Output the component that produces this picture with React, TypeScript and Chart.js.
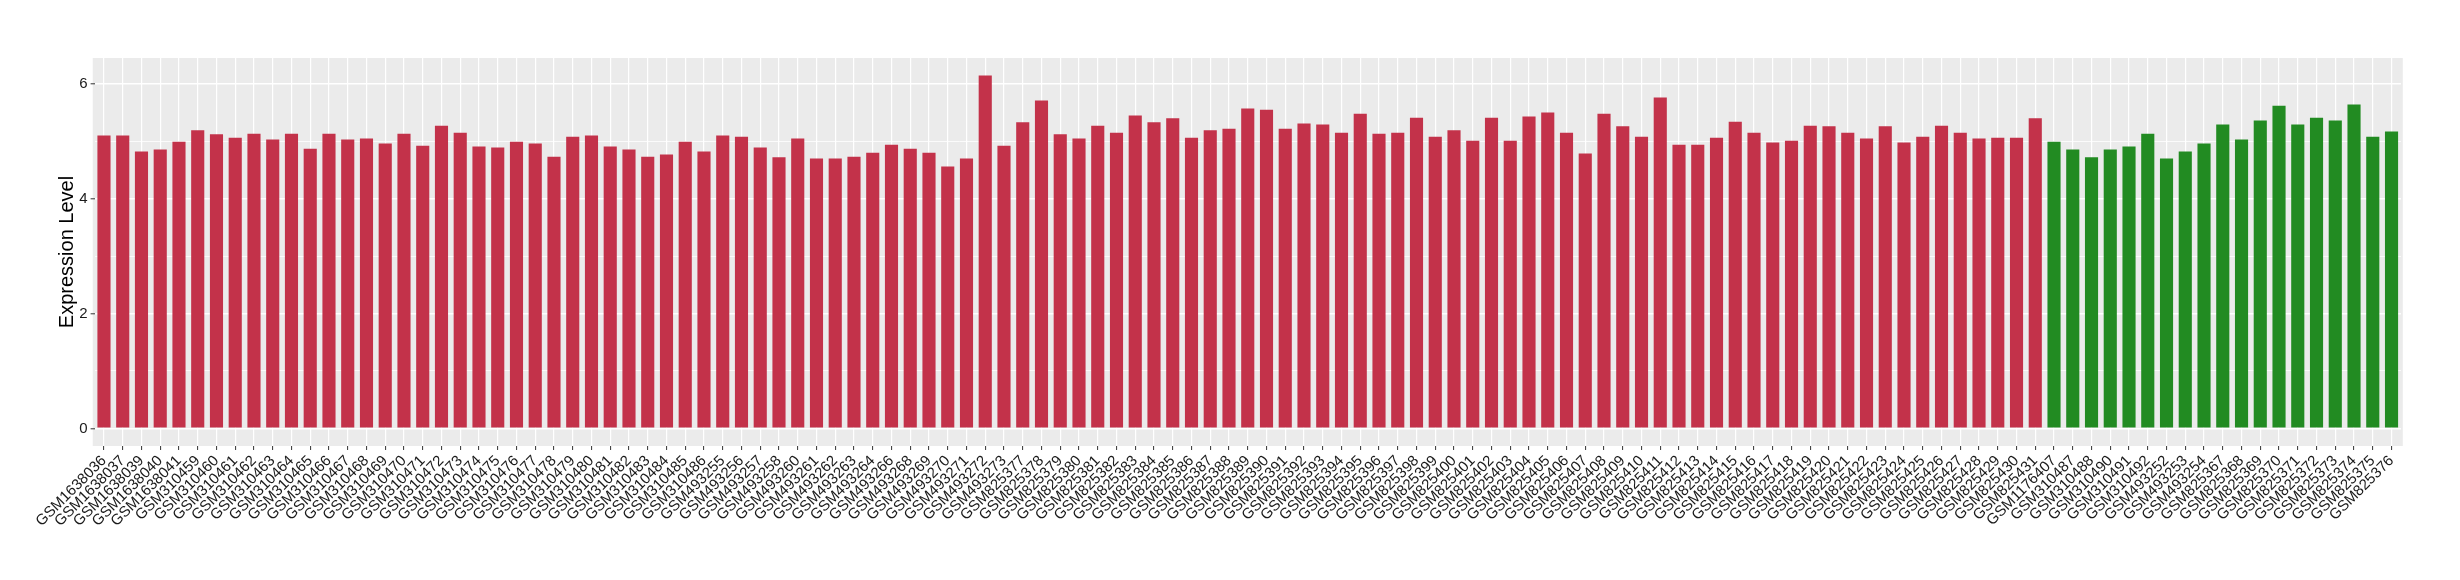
import React, { useEffect, useRef } from "react";
import { Chart, registerables } from "chart.js";

Chart.register(...registerables);

const redSamples = [
  "GSM1638036", "GSM1638037", "GSM1638039", "GSM1638040", "GSM1638041",
  "GSM310459", "GSM310460", "GSM310461", "GSM310462", "GSM310463", "GSM310464", "GSM310465",
  "GSM310466", "GSM310467", "GSM310468", "GSM310469", "GSM310470", "GSM310471", "GSM310472",
  "GSM310473", "GSM310474", "GSM310475", "GSM310476", "GSM310477", "GSM310478", "GSM310479",
  "GSM310480", "GSM310481", "GSM310482", "GSM310483", "GSM310484", "GSM310485", "GSM310486",
  "GSM493255", "GSM493256", "GSM493257", "GSM493258", "GSM493260", "GSM493261", "GSM493262",
  "GSM493263", "GSM493264", "GSM493266", "GSM493268", "GSM493269", "GSM493270", "GSM493271",
  "GSM493272", "GSM493273",
  "GSM825377", "GSM825378", "GSM825379", "GSM825380", "GSM825381", "GSM825382", "GSM825383",
  "GSM825384", "GSM825385", "GSM825386", "GSM825387", "GSM825388", "GSM825389", "GSM825390",
  "GSM825391", "GSM825392", "GSM825393", "GSM825394", "GSM825395", "GSM825396", "GSM825397",
  "GSM825398", "GSM825399", "GSM825400", "GSM825401", "GSM825402", "GSM825403", "GSM825404",
  "GSM825405", "GSM825406", "GSM825407", "GSM825408", "GSM825409", "GSM825410", "GSM825411",
  "GSM825412", "GSM825413", "GSM825414", "GSM825415", "GSM825416", "GSM825417", "GSM825418",
  "GSM825419", "GSM825420", "GSM825421", "GSM825422", "GSM825423", "GSM825424", "GSM825425",
  "GSM825426", "GSM825427", "GSM825428", "GSM825429", "GSM825430", "GSM825431",
];

const redValues = [
  5.10, 5.10, 4.82, 4.855, 4.99,
  5.19, 5.12, 5.06, 5.13, 5.03, 5.13, 4.87,
  5.13, 5.03, 5.05, 4.96, 5.13, 4.92, 5.27,
  5.15, 4.91, 4.89, 4.99, 4.96, 4.73, 5.08,
  5.10, 4.91, 4.855, 4.73, 4.77, 4.99, 4.82,
  5.10, 5.08, 4.89, 4.72, 5.05, 4.70, 4.70,
  4.73, 4.80, 4.94, 4.87, 4.80, 4.56, 4.70,
  6.145, 4.92,
  5.33, 5.71, 5.12, 5.05, 5.27, 5.15, 5.45,
  5.33, 5.40, 5.06, 5.19, 5.22, 5.57, 5.55,
  5.22, 5.31, 5.29, 5.15, 5.48, 5.13, 5.15,
  5.41, 5.08, 5.19, 5.01, 5.41, 5.01, 5.43,
  5.50, 5.15, 4.785, 5.48, 5.26, 5.08, 5.76,
  4.94, 4.94, 5.06, 5.34, 5.15, 4.98, 5.01,
  5.27, 5.26, 5.15, 5.05, 5.26, 4.98, 5.08,
  5.27, 5.15, 5.05, 5.06, 5.06, 5.40,
];

const greenSamples = [
  "GSM1176407", "GSM310487", "GSM310488", "GSM310490", "GSM310491", "GSM310492",
  "GSM493252", "GSM493253", "GSM493254", "GSM825367", "GSM825368", "GSM825369",
  "GSM825370", "GSM825371", "GSM825372", "GSM825373", "GSM825374", "GSM825375", "GSM825376",
];

const greenValues = [
  4.99, 4.855, 4.72, 4.855, 4.91, 5.13,
  4.70, 4.82, 4.96, 5.29, 5.03, 5.36,
  5.62, 5.29, 5.41, 5.36, 5.64, 5.08, 5.17,
];

const yTickValues = [0, 2, 4, 6];
const yTitle = "Expression Level";

const RED = "#C3324A";
const GREEN = "#228B22";
const PANEL_BG = "#EBEBEB";
const FONT = "'Liberation Sans', Arial, Helvetica, sans-serif";

export default function App() {
  const canvasRef = useRef<HTMLCanvasElement | null>(null);

  useEffect(() => {
    const canvas = canvasRef.current;
    if (!canvas) return;
    const labels = [...redSamples, ...greenSamples];
    const values = [...redValues, ...greenValues];
    const colors = [...redSamples.map(() => RED), ...greenSamples.map(() => GREEN)];

    const panelBg = {
      id: "panelBg",
      beforeDraw(chart: any) {
        const { ctx } = chart;
        const yScale = chart.scales.y;
        const top = yScale.getPixelForValue(yScale.max);
        const bottom = yScale.getPixelForValue(yScale.min);
        const xs = chart.scales.x;
        const step = xs.getPixelForValue(1) - xs.getPixelForValue(0);
        const left = xs.getPixelForValue(0) - step * 0.6;
        const right = xs.getPixelForValue(labels.length - 1) + step * 0.6;
        ctx.save();
        ctx.fillStyle = PANEL_BG;
        ctx.fillRect(left, top, right - left, bottom - top);
        ctx.restore();
      },
    };

    const chart = new Chart(canvas, {
      type: "bar",
      data: {
        labels,
        datasets: [
          {
            data: values,
            backgroundColor: colors,
            borderWidth: 0,
            barPercentage: 0.7,
            categoryPercentage: 1.0,
          },
        ],
      },
      options: {
        responsive: false,
        animation: false,
        devicePixelRatio: 1,
        layout: { padding: { left: 1.6, right: 59.1, top: 58, bottom: 0 } },
        plugins: {
          legend: { display: false },
          tooltip: { enabled: false },
        },
        scales: {
          x: {
            type: "category",
            offset: true,
            border: { display: false },
            grid: {
              offset: false,
              color: "#FFFFFF",
              lineWidth: 1.2,
              drawTicks: true,
              tickLength: 4,
              tickColor: "#333333",
              tickWidth: 1,
            },
            ticks: {
              autoSkip: false,
              maxRotation: 45,
              minRotation: 45,
              padding: 2,
              color: "#1A1A1A",
              font: { family: FONT, size: 15 },
            },
            afterFit(scale: any) {
              scale.height = 134;
              scale.paddingLeft = 0;
              scale.paddingRight = 0;
            },
          },
          y: {
            min: -0.307,
            max: 6.45,
            border: { display: false },
            grid: {
              color: "#FFFFFF",
              lineWidth: (c: any) => (c.tick && yTickValues.includes(c.tick.value) ? 1.6 : 0.8),
              drawTicks: true,
              tickLength: 4,
              tickColor: (c: any) =>
                c.tick && yTickValues.includes(c.tick.value) ? "#333333" : "rgba(0,0,0,0)",
              tickWidth: 1,
            },
            ticks: {
              stepSize: 1,
              includeBounds: false,
              padding: 3,
              color: "#1A1A1A",
              font: { family: FONT, size: 15 },
              callback: (v: any) => (yTickValues.includes(Number(v)) ? String(v) : ""),
            },
            title: {
              display: true,
              text: yTitle,
              color: "#000000",
              font: { family: FONT, size: 20 },
              padding: { top: 54, bottom: 0 },
            },
            afterFit(scale: any) {
              scale.width = 93;
            },
          },
        },
      },
      plugins: [panelBg],
    });

    return () => {
      chart.destroy();
    };
  }, []);

  return (
    <div
      style={{
        position: "absolute",
        left: 0,
        top: 0,
        width: 2460,
        height: 580,
        background: "#FFFFFF",
      }}
    >
      <canvas ref={canvasRef} width={2460} height={580} style={{ width: 2460, height: 580 }} />
    </div>
  );
}
